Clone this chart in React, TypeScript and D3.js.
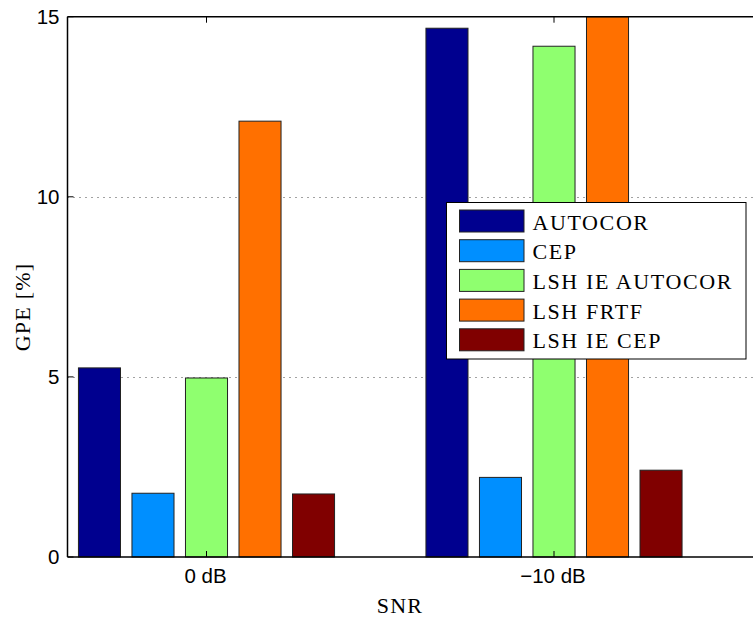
import React from "react";
import * as d3 from "d3";

// SNR conditions on the x axis
const categories = ["0 dB", "\u221210 dB"];

// Gross pitch error [%] per method, one value per SNR condition
const seriesNames = ["AUTOCOR", "CEP", "LSH IE AUTOCOR", "LSH FRTF", "LSH IE CEP"];
const autocor = [5.25, 14.68];
const cep = [1.77, 2.21];
const lshIeAutocor = [4.97, 14.18];
const lshFrtf = [12.1, 15.0];
const lshIeCep = [1.75, 2.41];
const seriesValues = [autocor, cep, lshIeAutocor, lshFrtf, lshIeCep];

const seriesColors = ["#00008f", "#008fff", "#8fff6f", "#ff7000", "#800000"];

const yTicks = [0, 5, 10, 15];
const yGrid = [5, 10];

const W = 753;
const H = 618;

export default function App() {
  const left = 67.5;
  const top = 16.7;
  const bottom = 557;

  // category 1 and 2 centres on a linear axis
  const x = d3.scaleLinear().domain([1, 2]).range([206.5, 554]);
  const y = d3.scaleLinear().domain([0, 15]).range([bottom, top]);

  const step = 0.154;
  const barW = 0.121;
  const nS = seriesValues.length;

  const sansFont = "'Liberation Sans', Arial, sans-serif";
  const serifFont = "'Liberation Serif', 'Times New Roman', serif";

  const legend = { x: 446.5, y: 202.5, w: 299.5, h: 156.5 };

  return (
    <svg
      width={W}
      height={H}
      style={{ position: "absolute", left: 0, top: 0, background: "#fff" }}
    >
      <rect x={0} y={0} width={W} height={H} fill="#fff" />

      {/* dotted horizontal grid */}
      {yGrid.map((v) => (
        <line
          key={"g" + v}
          x1={left}
          x2={W}
          y1={Math.round(y(v)) + 0.5}
          y2={Math.round(y(v)) + 0.5}
          stroke="#444"
          strokeWidth={1}
          strokeDasharray="1 5"
        />
      ))}

      {/* bars */}
      {seriesValues.map((vals, s) =>
        vals.map((v, c) => {
          const cx = x(c + 1) + (s - (nS - 1) / 2) * (x(1 + step) - x(1));
          const bw = x(1 + barW) - x(1);
          return (
            <rect
              key={`b${s}-${c}`}
              x={cx - bw / 2}
              y={y(v)}
              width={bw}
              height={y(0) - y(v)}
              fill={seriesColors[s]}
              stroke="#222"
              strokeWidth={1}
            />
          );
        })
      )}

      {/* axes lines */}
      <line x1={left} x2={W} y1={bottom} y2={bottom} stroke="#000" strokeWidth={1.5} />
      <line x1={left} x2={W} y1={top} y2={top} stroke="#000" strokeWidth={1.5} />
      <line x1={left} x2={left} y1={top} y2={bottom} stroke="#000" strokeWidth={1.5} />

      {/* y ticks and labels */}
      {yTicks.map((v) => (
        <g key={"yt" + v}>
          <line x1={left} x2={left + 6} y1={y(v)} y2={y(v)} stroke="#000" strokeWidth={1} />
          <text
            x={left - 8}
            y={y(v) + 7}
            textAnchor="end"
            fontFamily={sansFont}
            fontSize={20.5}
            fill="#000"
          >
            {v}
          </text>
        </g>
      ))}

      {/* x ticks and labels */}
      {categories.map((c, i) => (
        <g key={"xt" + i}>
          <line x1={x(i + 1)} x2={x(i + 1)} y1={bottom} y2={bottom - 6} stroke="#000" strokeWidth={1} />
          <line x1={x(i + 1)} x2={x(i + 1)} y1={top} y2={top + 6} stroke="#000" strokeWidth={1} />
          <text
            x={x(i + 1) - 1}
            y={583}
            textAnchor="middle"
            fontFamily={sansFont}
            fontSize={20.5}
            fill="#000"
          >
            {c}
          </text>
        </g>
      ))}

      {/* axis titles */}
      <text
        x={400}
        y={613}
        textAnchor="middle"
        fontFamily={serifFont}
        fontSize={22}
        letterSpacing={1.2}
        fill="#000"
      >
        SNR
      </text>
      <text
        transform={`translate(30,307) rotate(-90)`}
        textAnchor="middle"
        fontFamily={serifFont}
        fontSize={22}
        letterSpacing={1.2}
        fill="#000"
      >
        GPE [%]
      </text>

      {/* legend */}
      <rect
        x={legend.x}
        y={legend.y}
        width={legend.w}
        height={legend.h}
        fill="#fff"
        stroke="#000"
        strokeWidth={1}
      />
      {seriesNames.map((name, i) => {
        const ry = 210 + i * 29.7;
        return (
          <g key={"lg" + i}>
            <rect
              x={459.5}
              y={ry}
              width={64.5}
              height={22}
              fill={seriesColors[i]}
              stroke="#222"
              strokeWidth={1}
            />
            <text
              x={532.5}
              y={ry + 19.5}
              fontFamily={serifFont}
              fontSize={22}
              letterSpacing={1.6}
              fill="#000"
            >
              {name}
            </text>
          </g>
        );
      })}
    </svg>
  );
}
